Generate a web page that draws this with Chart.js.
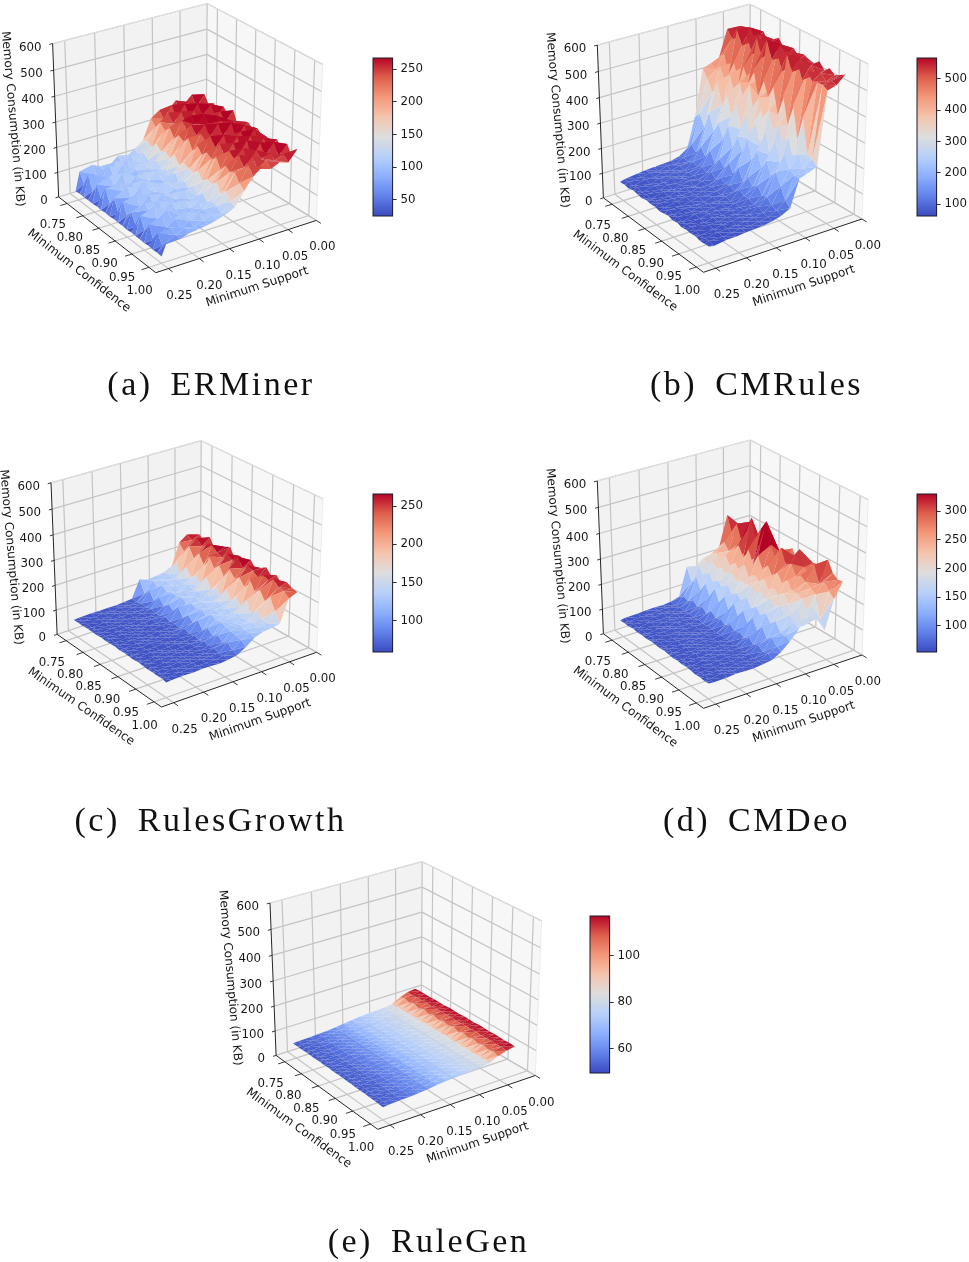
<!DOCTYPE html>
<html><head><meta charset="utf-8">
<script src="https://cdn.jsdelivr.net/npm/chart.js@4"></script>
<style>
html,body{margin:0;padding:0;background:#fff}
#page{position:relative;width:969px;height:1262px;overflow:hidden;filter:blur(.3px)}
canvas{position:absolute}
.cap{position:absolute;font-family:"Liberation Serif",serif;font-size:34px;letter-spacing:2.5px;word-spacing:7px;color:#111;white-space:pre;transform:translate(-50%,-50%);line-height:1}
</style></head><body><div id="page"></div>
<script>
const supports=[0.25,0.242,0.22,0.205,0.19,0.175,0.16,0.145,0.13,0.115,0.10,0.085,0.07,0.055,0.04,0.025];
const confidences=[0.74,0.753,0.766,0.779,0.792,0.805,0.818,0.831,0.844,0.857,0.87,0.883,0.896,0.909,0.922,0.935,0.948,0.961,0.974,0.987,1.00];
const supportTicks=[0,0.05,0.10,0.15,0.20,0.25];
const confidenceTicks=[0.75,0.80,0.85,0.90,0.95,1.00];
const memoryTicks=[0,100,200,300,400,500,600];
const erminerZ=[
[26,100,112,96,88,118,104,126,150,228,252,236,272,246,276,240],
[28,62,84,92,112,98,122,108,158,206,228,274,236,268,238,280],
[26,108,78,118,96,126,100,132,146,236,264,232,280,234,262,244],
[27,58,98,90,124,92,116,118,170,214,232,270,242,284,246,266],
[25,96,116,104,88,110,128,104,152,240,238,230,276,244,282,232],
[28,48,88,128,100,94,112,136,162,208,266,278,238,262,240,274],
[26,104,110,86,118,122,98,114,148,232,234,252,284,226,276,248],
[27,60,94,112,92,104,130,124,174,218,270,234,258,280,244,282],
[25,92,120,98,126,88,108,110,144,244,242,276,230,270,264,228],
[28,44,90,124,96,116,94,138,166,204,262,238,282,238,272,256],
[26,102,114,88,108,130,120,102,156,238,236,256,242,286,232,270],
[27,64,82,116,94,100,110,128,150,212,274,240,256,236,278,254],
[25,88,106,92,122,114,90,116,172,234,240,282,236,274,240,268],
[28,46,92,120,86,104,126,134,146,220,268,228,276,242,286,242],
[26,98,118,94,112,96,106,112,160,242,230,272,232,282,238,256],
[27,58,86,110,100,124,98,130,154,202,264,234,286,224,274,250],
[25,92,104,84,90,108,118,106,176,230,244,276,228,278,244,270],
[28,44,78,100,116,90,104,122,142,216,272,230,270,236,282,232],
[26,84,88,76,94,112,96,118,164,226,236,268,250,260,240,276],
[27,50,74,90,84,98,110,100,138,198,258,232,254,244,258,238],
[26,74,72,82,88,92,100,112,128,180,226,252,234,250,238,280]];
const cmrulesZ=[
[66,72,78,82,84,86,88,96,118,235,420,432,446,548,540,530],
[68,74,76,84,80,90,86,104,146,262,388,418,470,520,560,538],
[64,70,80,78,86,84,92,98,124,218,350,442,402,566,528,552],
[70,76,72,86,82,88,84,110,160,288,402,376,456,512,574,540],
[66,68,78,80,88,82,90,100,132,226,318,430,388,560,536,560],
[62,72,74,84,78,86,88,112,170,270,372,348,462,500,568,530],
[68,66,80,76,84,90,82,102,128,214,296,420,410,574,526,550],
[64,70,72,82,86,80,90,116,158,282,356,318,472,508,552,566],
[66,74,76,78,80,88,84,98,136,208,268,434,380,586,532,540],
[60,68,78,84,82,84,92,118,166,262,338,300,456,520,570,548],
[64,72,70,80,86,82,86,104,130,220,252,404,396,560,530,556],
[68,66,76,78,78,88,84,114,172,274,326,282,448,498,562,534],
[62,70,74,82,84,80,90,100,126,204,246,376,350,572,520,552],
[66,64,78,76,80,86,82,120,156,252,310,262,436,516,558,544],
[60,68,72,80,82,78,88,106,134,198,238,340,334,566,534,538],
[64,70,70,78,76,84,84,108,150,236,296,248,420,506,552,558],
[62,66,74,74,80,80,86,96,122,190,232,312,300,548,526,534],
[66,62,68,76,78,82,80,102,128,216,268,236,396,520,544,552],
[60,64,70,72,74,78,82,90,108,172,228,272,262,528,522,536],
[62,66,66,70,76,74,78,86,100,128,216,232,258,530,536,548],
[64,60,68,68,72,74,76,82,92,110,215,226,240,520,530,560]];
const rulesgrowthZ=[
[60,62,64,63,65,64,66,70,140,128,132,136,146,238,262,246],
[61,63,62,65,63,66,65,68,92,134,128,140,176,214,250,262],
[60,61,64,62,66,64,67,74,116,122,136,132,142,244,268,240],
[62,60,63,65,64,65,63,70,84,138,130,142,184,206,246,272],
[61,63,62,64,66,63,66,76,112,124,138,130,148,238,264,236],
[60,62,65,63,63,66,64,68,88,132,126,144,170,200,274,252],
[62,61,63,66,65,64,67,72,108,126,134,134,144,248,252,266],
[60,63,64,62,64,65,63,78,90,136,128,140,188,210,244,276],
[61,60,62,65,66,63,66,70,118,120,136,130,146,234,270,238],
[63,62,65,63,62,66,64,74,86,134,130,146,166,196,256,262],
[60,61,63,64,65,64,65,68,110,124,138,132,142,242,280,240],
[62,63,62,66,63,65,67,80,92,130,126,142,182,216,246,268],
[61,60,64,63,66,62,64,70,114,122,134,136,148,230,268,244],
[60,62,65,62,64,66,63,76,84,136,130,140,174,202,258,258],
[63,61,62,65,63,64,66,68,106,126,132,134,144,246,242,272],
[61,63,64,63,65,63,65,78,88,128,136,144,186,208,262,250],
[60,60,63,64,62,66,64,72,102,124,128,138,140,226,254,264],
[62,62,62,66,65,64,63,74,86,118,134,132,168,194,270,240],
[61,61,65,63,63,65,66,66,98,112,126,142,146,222,248,258],
[63,60,63,64,64,63,64,68,80,108,124,136,138,176,246,246],
[60,62,64,62,65,64,62,66,72,92,118,130,132,140,228,242]];
const cmdeoZ=[
[56,60,62,64,66,64,68,78,190,178,205,212,232,350,270,250],
[58,58,62,60,64,66,65,92,140,195,188,226,262,280,310,246],
[56,60,60,63,66,62,68,84,172,152,214,202,236,336,262,270],
[60,57,64,62,62,66,64,100,130,190,194,240,252,276,345,248],
[57,61,60,65,64,63,67,86,166,160,208,206,282,330,268,258],
[59,58,63,60,66,65,64,98,126,182,198,232,246,392,300,244],
[56,60,61,64,63,62,68,82,170,148,216,204,290,300,262,276],
[60,58,62,62,65,66,63,104,122,186,190,248,240,372,286,250],
[58,61,60,65,62,64,66,88,162,156,210,200,284,410,258,262],
[57,57,64,61,66,63,65,96,118,178,200,230,238,330,296,248],
[60,60,61,63,63,66,63,84,158,146,206,216,270,286,278,306],
[58,58,62,64,65,62,66,100,116,184,188,240,236,340,270,262],
[56,61,60,62,62,65,64,86,154,150,212,198,262,284,310,252],
[59,57,64,65,64,63,67,94,112,172,196,224,232,300,346,258],
[57,60,61,61,66,64,62,82,150,142,204,210,258,262,288,296],
[60,58,63,64,63,66,65,98,110,170,184,228,226,276,262,300],
[58,60,60,62,65,62,63,80,138,138,200,196,230,262,320,262],
[56,57,62,63,62,65,66,92,106,162,178,150,218,250,256,340],
[59,61,61,60,64,63,62,78,124,130,186,200,176,238,276,300],
[57,58,63,62,63,64,64,84,100,132,172,146,210,152,250,286],
[60,59,60,64,62,62,66,72,92,122,160,190,178,120,232,290]];
const rulegenZ=[
[50,52,54,56,58,61,66,70,73,75,77,79,83,100,112,116],
[51,53,54,57,59,62,66,71,72,75,78,79,84,110,111,118],
[50,52,55,56,58,61,67,70,73,76,77,80,83,102,113,117],
[51,52,54,57,59,62,66,70,72,75,78,80,84,109,112,116],
[50,53,54,56,58,61,66,71,73,75,77,79,83,100,114,118],
[50,52,55,57,59,61,67,70,72,76,78,80,84,111,111,117],
[51,52,54,56,58,62,66,70,73,75,77,80,83,101,112,116],
[50,53,54,57,58,61,66,71,72,75,78,79,84,110,113,118],
[51,52,55,56,59,62,67,70,73,76,77,80,83,100,112,117],
[50,52,54,57,58,61,66,70,72,75,78,80,84,109,114,116],
[50,53,54,56,59,62,66,71,73,75,77,79,83,102,111,118],
[51,52,55,57,58,61,67,70,72,76,78,80,84,111,112,117],
[50,52,54,56,59,61,66,70,73,75,77,80,83,100,113,116],
[51,53,54,57,58,62,66,71,72,75,78,79,84,110,112,118],
[50,52,55,56,59,61,67,70,73,76,77,80,83,101,114,117],
[50,52,54,57,58,62,66,70,72,75,78,80,84,109,111,116],
[51,53,54,56,59,61,66,71,73,75,77,79,83,100,112,118],
[50,52,55,57,58,61,67,70,72,76,78,80,84,110,113,117],
[51,52,54,56,59,62,66,70,73,75,77,80,83,102,112,116],
[50,53,54,57,58,61,66,71,72,75,78,79,84,108,114,118],
[50,52,55,56,59,62,67,70,73,76,77,80,83,100,111,117]];
const cbTicksA=[50,100,150,200,250], cbTicksB=[100,200,300,400,500], cbTicksC=[100,150,200,250], cbTicksD=[100,150,200,250,300], cbTicksE=[60,80,100];

const coolwarm=[[59,76,192],[98,130,234],[141,176,254],[184,208,249],[221,221,221],[245,196,173],[244,152,122],[222,96,77],[180,4,38]];
function cmap(t){t=Math.max(0,Math.min(1,t))*8;const i=Math.min(7,Math.floor(t)),f=t-i,a=coolwarm[i],b=coolwarm[i+1];
 return 'rgb('+[0,1,2].map(k=>Math.round(a[k]+(b[k]-a[k])*f)).join(',')+')';}
const XLIM=[0,0.27],YLIM=[0.723,1.02],ZLIM=[0,600],ELEV=28*Math.PI/180,DIST=10,SKEW=.04;
function project(X,Y,Z,azim){
 const a=azim*Math.PI/180,x=(X-XLIM[0])/(XLIM[1]-XLIM[0])-.5,y=(Y-YLIM[0])/(YLIM[1]-YLIM[0])-.5,z=(Z-ZLIM[0])/(ZLIM[1]-ZLIM[0])-.5;
 const ce=Math.cos(ELEV),se=Math.sin(ELEV),ca=Math.cos(a),sa=Math.sin(a);
 const d=x*ce*ca+y*ce*sa+z*se,r=-x*sa+y*ca,u=-x*se*ca-y*se*sa+z*ce,f=DIST/(DIST-d),h=x*ca+y*sa;
 return {u:r*f-SKEW*h*h,v:u*f,d};
}
const TEXT='#161616',FONT='"DejaVu Sans"';
function surfacePlugin(p){return {id:'surface3d',beforeDatasetsDraw(chart){
 const c=chart.ctx,sx=chart.scales.x,sy=chart.scales.y;
 const pt=(X,Y,Z)=>{const q=project(X,Y,Z,p.azim);return [sx.getPixelForValue(q.u),sy.getPixelForValue(q.v)];};
 const poly=(pts,fill)=>{c.beginPath();pts.forEach((q,i)=>i?c.lineTo(q[0],q[1]):c.moveTo(q[0],q[1]));c.closePath();c.fillStyle=fill;c.fill();};
 const line=(a,b,col,w)=>{c.beginPath();c.moveTo(a[0],a[1]);c.lineTo(b[0],b[1]);c.strokeStyle=col;c.lineWidth=w;c.stroke();};
 const [x0,x1]=XLIM,[y0,y1]=YLIM,[z0,z1]=ZLIM;
 c.save();
 poly([pt(x1,y0,z0),pt(x0,y0,z0),pt(x0,y0,z1),pt(x1,y0,z1)],'#f2f2f2');
 poly([pt(x0,y0,z0),pt(x0,y1,z0),pt(x0,y1,z1),pt(x0,y0,z1)],'#f7f7f7');
 poly([pt(x1,y0,z0),pt(x0,y0,z0),pt(x0,y1,z0),pt(x1,y1,z0)],'#f5f5f5');
 const G='#c4c4c4',W=1.2;
 memoryTicks.forEach(z=>{line(pt(x1,y0,z),pt(x0,y0,z),G,W);line(pt(x0,y0,z),pt(x0,y1,z),G,W);});
 supportTicks.forEach(x=>{line(pt(x,y0,z0),pt(x,y0,z1),G,W);line(pt(x,y0,z0),pt(x,y1,z0),G,W);});
 confidenceTicks.forEach(y=>{line(pt(x0,y,z0),pt(x0,y,z1),G,W);line(pt(x0,y,z0),pt(x1,y,z0),G,W);});
 [[pt(x1,y0,z1),pt(x0,y0,z1)],[pt(x0,y0,z1),pt(x0,y1,z1)],[pt(x0,y1,z0),pt(x0,y1,z1)]].forEach(e=>line(e[0],e[1],'#e8e8e8',.8));
 const meta=chart.getDatasetMeta(0).data,R=confidences.length,C=supports.length,tris=[];
 const dep=(i,j)=>project(supports[j],confidences[i],p.z[i][j],p.azim).d;
 for(let i=0;i<R-1;i++)for(let j=0;j<C-1;j++){
  const A=[i,j],B=[i,j+1],D=[i+1,j],E=[i+1,j+1];
  [[A,B,E],[A,E,D]].forEach(t=>{tris.push({t,d:(dep(...t[0])+dep(...t[1])+dep(...t[2]))/3,m:(p.z[t[0][0]][t[0][1]]+p.z[t[1][0]][t[1][1]]+p.z[t[2][0]][t[2][1]])/3});});
 }
 tris.sort((a,b)=>a.d-b.d);
 tris.forEach(o=>{c.beginPath();o.t.forEach((v,k)=>{const e=meta[v[0]*C+v[1]];k?c.lineTo(e.x,e.y):c.moveTo(e.x,e.y);});c.closePath();
  c.fillStyle=cmap((o.m-p.vmin)/(p.vmax-p.vmin));c.fill();});
 const K='#262626';
 line(pt(x1,y0,z0),pt(x1,y1,z0),K,1);line(pt(x1,y1,z0),pt(x0,y1,z0),K,1);line(pt(x1,y0,z0),pt(x1,y0,z1),K,1);
 c.font='11.8px '+FONT;c.fillStyle=TEXT;c.textBaseline='middle';
 const tk=.012;
 memoryTicks.forEach(z=>{line(pt(x1,y0,z),pt(x1+.02*(x1-x0),y0,z),K,.9);const q=pt(x1,y0,z);c.textAlign='right';c.fillText(String(z),q[0]-11,q[1]+4);});
 supportTicks.forEach(x=>{line(pt(x,y1,z0),pt(x,y1+tk,z0),K,.9);const q=pt(x,y1,z0);c.textAlign='center';c.fillText(x.toFixed(2),q[0]+6+5*(x/.25),q[1]+27);});
 confidenceTicks.forEach(y=>{line(pt(x1,y,z0),pt(x1+tk,y,z0),K,.9);const q=pt(x1,y,z0),fr=(y-.75)/.25;c.textAlign='center';c.fillText(y.toFixed(2),q[0]-14.5+5*fr,q[1]+22+2*fr);});
 const lab=(a,b,dx,dy,txt,rot)=>{const m=[(a[0]+b[0])/2+dx,(a[1]+b[1])/2+dy];c.save();c.translate(m[0],m[1]);c.rotate(rot);c.textAlign='center';c.font='12px '+FONT;c.fillStyle=TEXT;c.fillText(txt,0,0);c.restore();};
 const L=pt(x1,y0,z0),F=pt(x1,y1,z0),Rr=pt(x0,y1,z0),T=pt(x1,y0,z1);
 lab(F,Rr,21,40.5,'Minimum Support',Math.atan2(Rr[1]-F[1],Rr[0]-F[0]));
 lab(L,F,-28.3,36,'Minimum Confidence',Math.atan2(F[1]-L[1],F[0]-L[0]));
 lab(L,T,-43,-1.4,'Memory Consumption (in KB)',85*Math.PI/180);
 c.restore();
}};}
const panels=[
 {z:erminerZ,vmin:25.5,vmax:267,azim:56,box:[0,0,365,325],frame:[52.6,322.7,3.5,272.7],cb:[372.5,58.3,19.6,157.7],ticks:cbTicksA,title:'(a) ERMiner',tc:[211,384]},
 {z:cmrulesZ,vmin:62,vmax:567,azim:55,box:[545,0,365,325],frame:[597.3,868.3,4.2,272.3],cb:[917.3,58.3,19.6,157.7],ticks:cbTicksB,title:'(b) CMRules',tc:[756.5,384]},
 {z:rulesgrowthZ,vmin:59,vmax:266,azim:53.5,box:[0,430,365,325],frame:[51,323,440.7,707],cb:[372.5,494.3,19.6,157.7],ticks:cbTicksC,title:'(c) RulesGrowth',tc:[210.5,820]},
 {z:cmdeoZ,vmin:54.5,vmax:330,azim:55,box:[545,430,365,325],frame:[597.3,868.3,440,708.3],cb:[917.3,494.3,19.6,157.7],ticks:cbTicksD,title:'(d) CMDeo',tc:[756.5,820]},
 {z:rulegenZ,vmin:49.5,vmax:117,azim:54.5,box:[215,850,370,325],frame:[270,541.7,861.7,1129.3],cb:[590,915.7,19.6,157],ticks:cbTicksE,title:'(e) RuleGen',tc:[428.5,1241]}
];
const page=document.getElementById('page');
function mk(x,y,w,h){const c=document.createElement('canvas');c.width=w;c.height=h;c.style.left=x+'px';c.style.top=y+'px';c.style.width=w+'px';c.style.height=h+'px';page.appendChild(c);return c;}
panels.forEach(p=>{
 const [bx,by,bw,bh]=p.box,[fl,fr,ft,fb]=p.frame;
 const TLu=project(XLIM[1],YLIM[0],ZLIM[1],p.azim).u,TRu=project(XLIM[0],YLIM[1],ZLIM[1],p.azim).u,
       TBv=project(XLIM[0],YLIM[0],ZLIM[1],p.azim).v,Fv=project(XLIM[1],YLIM[1],ZLIM[0],p.azim).v;
 const ku=(fr-fl)/(TRu-TLu),kv=(fb-ft)/(TBv-Fv);
 const umin=TLu-(fl-bx)/ku,umax=umin+bw/ku,vmax=TBv+(ft-by)/kv,vmin=vmax-bh/kv;
 const pts=[];confidences.forEach((cf,i)=>supports.forEach((s,j)=>{const q=project(s,cf,p.z[i][j],p.azim);pts.push({x:q.u,y:q.v});}));
 new Chart(mk(bx,by,bw,bh),{type:'scatter',data:{datasets:[{data:pts,pointRadius:0,showLine:false}]},
  options:{responsive:false,animation:false,events:[],layout:{padding:0},plugins:{legend:{display:false},tooltip:{enabled:false}},
   scales:{x:{type:'linear',display:false,min:umin,max:umax},y:{type:'linear',display:false,min:vmin,max:vmax}}},
  plugins:[surfacePlugin(p)]});
 const [cx,cy,cw,ch]=p.cb,N=128,ds=[];
 for(let k=0;k<N;k++){const hi=p.vmin+(p.vmax-p.vmin)*(k+1)/N;ds.push({data:[[p.vmin,hi]],backgroundColor:cmap((k+.5)/N),grouped:false,barPercentage:1,categoryPercentage:1,borderWidth:0});}
 const W=75;
 new Chart(mk(cx-1,cy-1,W,Math.round(ch)+2),{type:'bar',data:{labels:[''],datasets:ds},
  options:{responsive:false,animation:false,events:[],layout:{padding:{left:1,top:1,bottom:1,right:0}},plugins:{legend:{display:false},tooltip:{enabled:false}},
   scales:{x:{display:false},y:{type:'linear',position:'right',min:p.vmin,max:p.vmax,
     afterBuildTicks:s=>{s.ticks=p.ticks.map(v=>({value:v}));},afterFit:s=>{s.width=W-1-cw;s.paddingTop=0;s.paddingBottom=0;},
     border:{display:false},grid:{display:true,drawOnChartArea:false,drawTicks:true,tickLength:4,tickColor:'#333',tickWidth:1},
     ticks:{color:TEXT,padding:4,font:{family:'DejaVu Sans',size:11.8},callback:v=>String(v),maxRotation:0,autoSkip:false}}}},
  plugins:[{id:'cbOutline',afterDraw(ch2){const a=ch2.chartArea,c=ch2.ctx;c.save();c.strokeStyle='#1c1c2c';c.lineWidth=1;c.strokeRect(a.left,a.top,a.right-a.left,a.bottom-a.top);c.restore();}}]});
 const d=document.createElement('div');d.className='cap';d.textContent=p.title;d.style.left=p.tc[0]+'px';d.style.top=p.tc[1]+'px';page.appendChild(d);
});
</script></body></html>
